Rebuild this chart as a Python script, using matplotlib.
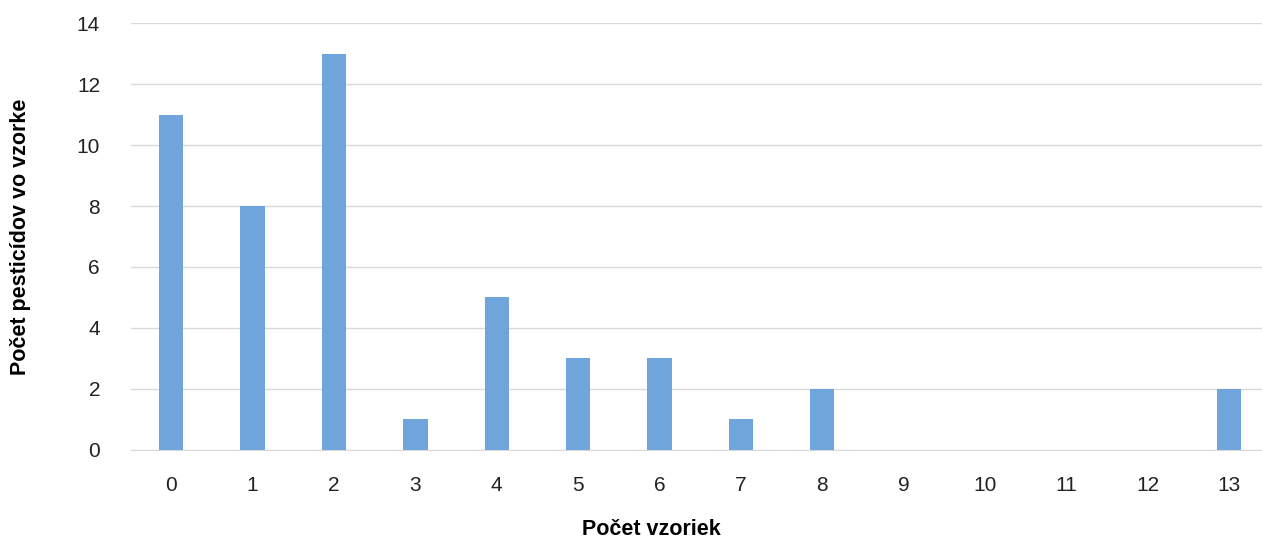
import matplotlib

matplotlib.use("Agg")
import matplotlib.pyplot as plt

# number of samples vs. number of pesticides found in a sample
samples = list(range(14))
pesticides = [11, 8, 13, 1, 5, 3, 3, 1, 2, 0, 0, 0, 0, 2]
y_ticks = [0, 2, 4, 6, 8, 10, 12, 14]

plt.rcParams["font.family"] = ["Liberation Sans", "DejaVu Sans"]

fig = plt.figure(figsize=(12.62, 5.40), dpi=100)
ax = fig.add_axes([0.1035, 0.167, 0.9025, 0.79])

ax.bar(samples, pesticides, width=0.3, color="#6FA5DA", zorder=2)

ax.set_xlim(-0.5, 13.5)
ax.set_ylim(0, 14)
ax.set_xticks(samples)
ax.set_yticks(y_ticks)
ax.tick_params(axis="both", length=0, labelsize=15, colors="#222222")
ax.tick_params(axis="x", pad=19)
ax.tick_params(axis="y", pad=22)
ax.grid(axis="y", color="#d9d9d9", linewidth=1, zorder=0)
for side in ("top", "right", "left"):
    ax.spines[side].set_visible(False)
ax.spines["bottom"].set_color("#d9d9d9")

ax.set_xlabel("Počet vzoriek", fontsize=15.5, fontweight="bold", va="center")
ax.set_ylabel("Počet pesticídov vo vzorke", fontsize=15.5, fontweight="bold", va="center")
ax.xaxis.set_label_coords(0.457, -0.187)
ax.yaxis.set_label_coords(-0.0965, 0.5)

fig.savefig("out.png", dpi=100)
